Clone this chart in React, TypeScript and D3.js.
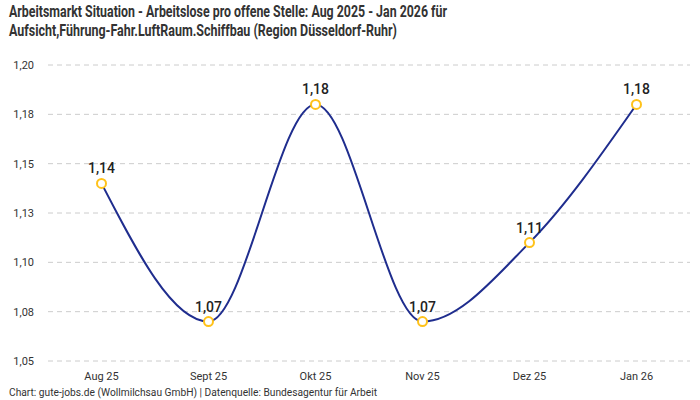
import React from 'react';
import * as d3 from 'd3';

const months = ['Aug 25', 'Sept 25', 'Okt 25', 'Nov 25', 'Dez 25', 'Jan 26'];
const ratios = [1.14, 1.07, 1.18, 1.07, 1.11, 1.18];
const yTicks = [1.05, 1.075, 1.1, 1.125, 1.15, 1.175, 1.2];

const titleLines = [
  'Arbeitsmarkt Situation - Arbeitslose pro offene Stelle: Aug 2025 - Jan 2026 für',
  'Aufsicht,Führung-Fahr.LuftRaum.Schiffbau (Region Düsseldorf-Ruhr)',
];
const footer = 'Chart: gute-jobs.de (Wollmilchsau GmbH) | Datenquelle: Bundesagentur für Arbeit';

const W = 700;
const H = 400;
const font = 'Roboto, "Noto Sans", sans-serif';
// round half up so 1.075 -> 1,08 like the original axis
const fmt = (v: number) => (Math.round(v * 100 + 1e-6) / 100).toFixed(2).replace('.', ',');

const App: React.FC = () => {
  const x = d3.scalePoint<string>().domain(months).range([48, 690]).padding(0.5);
  const y = d3.scaleLinear().domain([1.05, 1.2]).range([361, 65]);

  const line = d3.line<number>()
    .x((_, i) => x(months[i])!)
    .y(d => y(d))
    .curve(d3.curveMonotoneX);

  return (
    <div style={{ position: 'absolute', left: 0, top: 0 }}>
      <svg width={W} height={H} style={{ display: 'block', background: '#fff' }}>
        {titleLines.map((t, i) => (
          <text key={i} x={9} y={17 + i * 19} fontFamily={font} fontSize={17} fontWeight={700}
            fill="#333" textLength={i === 0 ? 438 : 388} lengthAdjust="spacingAndGlyphs">{t}</text>
        ))}

        {yTicks.map(t => (
          <g key={t}>
            <line x1={48} x2={690} y1={y(t)} y2={y(t)} stroke="#ccc" strokeDasharray="5,4" strokeWidth={1} />
            <text x={34} y={y(t)} dy="0.35em" textAnchor="end" fontFamily={font} fontSize={11} fill="#333">{fmt(t)}</text>
          </g>
        ))}

        {months.map(m => (
          <text key={m} x={x(m)} y={380} textAnchor="middle" fontFamily={font} fontSize={11} fill="#333">{m}</text>
        ))}

        <path d={line(ratios) ?? ''} fill="none" stroke="#1f2d8e" strokeWidth={2} />

        {ratios.map((v, i) => (
          <g key={i}>
            <circle cx={x(months[i])} cy={y(v)} r={4.5} fill="#fff" stroke="#ffc21a" strokeWidth={2} />
            <text x={x(months[i])} y={y(v) - 10} textAnchor="middle" fontFamily={font} fontSize={14}
              fontWeight={500} fill="#222">{fmt(v)}</text>
          </g>
        ))}

        <text x={9} y={396} fontFamily={font} fontSize={10} fill="#333" textLength={368}
          lengthAdjust="spacingAndGlyphs">{footer}</text>
      </svg>
    </div>
  );
};

export default App;
